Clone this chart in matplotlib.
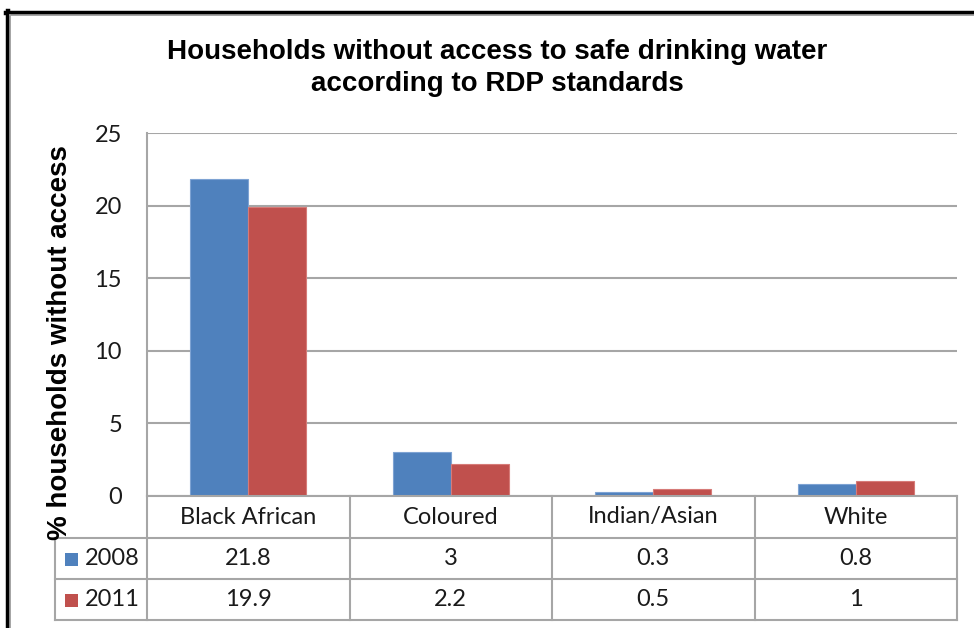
import matplotlib
matplotlib.use("Agg")
import matplotlib.pyplot as plt
from matplotlib.lines import Line2D
from matplotlib.patches import Rectangle

categories = ["Black African", "Coloured", "Indian/Asian", "White"]
series_names = ["2008", "2011"]
values_2008 = [21.8, 3, 0.3, 0.8]
values_2011 = [19.9, 2.2, 0.5, 1]
yticks = [0, 5, 10, 15, 20, 25]

title = "Households without access to safe drinking water\naccording to RDP standards"
ylabel = "% households without access"

BLUE = "#4F81BD"
RED = "#C0504D"
GRID = "#A6A6A6"
TEXT = "#1a1a1a"
BODY_FONT = ["Lato", "DejaVu Sans"]
HEAD_FONT = ["Liberation Sans", "DejaVu Sans"]
BODY_SIZE = 17

W, H = 974, 628
fig = plt.figure(figsize=(W / 100, H / 100), dpi=100)
fig.patch.set_facecolor("white")


def fx(x):
    return x / W


def fy(y):
    return 1 - y / H


# plot area in pixel coordinates
L, R, T, B = 147, 957, 133, 496
ax = fig.add_axes([fx(L), fy(B), (R - L) / W, (B - T) / H])

n = len(categories)
xs = list(range(n))
bw = 0.286
ax.bar([x - bw / 2 for x in xs], values_2008, width=bw, color=BLUE,
       edgecolor="#7EA3D3", linewidth=0.8, zorder=3)
ax.bar([x + bw / 2 for x in xs], values_2011, width=bw, color=RED,
       edgecolor="#D67B78", linewidth=0.8, zorder=3)

ax.set_xlim(-0.5, n - 0.5)
ax.set_ylim(0, 25)
ax.set_yticks(yticks)
ax.set_yticklabels([str(t) for t in yticks], fontsize=BODY_SIZE, color=TEXT,
                   family=BODY_FONT)
ax.set_xticks([])
ax.tick_params(axis="y", length=0, pad=18)
ax.yaxis.grid(True, color=GRID, linewidth=1.5, zorder=0)
for s in ["top", "right", "bottom"]:
    ax.spines[s].set_visible(False)
ax.spines["left"].set_color(GRID)
ax.spines["left"].set_linewidth(1.5)

# data table under the axis
row_tops = [496, 538, 579, 620]
tab_left = 55
col_w = (R - L) / n
lw = 1.5
# horizontal lines
fig.add_artist(Line2D([fx(L), fx(R)], [fy(row_tops[0])] * 2, color=GRID, lw=lw))
for y in row_tops[1:]:
    fig.add_artist(Line2D([fx(tab_left), fx(R)], [fy(y)] * 2, color=GRID, lw=lw))
# vertical lines
fig.add_artist(Line2D([fx(L), fx(L)], [fy(row_tops[0]), fy(row_tops[-1])], color=GRID, lw=lw))
fig.add_artist(Line2D([fx(tab_left)] * 2, [fy(row_tops[1]), fy(row_tops[-1])], color=GRID, lw=lw))
for i in range(1, n + 1):
    x = L + col_w * i
    fig.add_artist(Line2D([fx(x)] * 2, [fy(row_tops[0]), fy(row_tops[-1])], color=GRID, lw=lw))

# header row with categories
for i, c in enumerate(categories):
    xc = L + col_w * (i + 0.5)
    fig.text(fx(xc), fy((row_tops[0] + row_tops[1]) / 2), c, ha="center",
             va="center", fontsize=BODY_SIZE, color=TEXT, family=BODY_FONT)

# value rows
for r, (name, vals, col) in enumerate(zip(series_names, [values_2008, values_2011], [BLUE, RED])):
    yc = (row_tops[r + 1] + row_tops[r + 2]) / 2
    fig.add_artist(Rectangle((fx(65), fy(yc + 7)), 13 / W, 13 / H,
                             transform=fig.transFigure, facecolor=col,
                             edgecolor="none"))
    fig.text(fx(85), fy(yc), name, ha="left", va="center", fontsize=BODY_SIZE,
             color=TEXT, family=BODY_FONT)
    for i, v in enumerate(vals):
        xc = L + col_w * (i + 0.5)
        fig.text(fx(xc), fy(yc), f"{v:g}", ha="center", va="center",
                 fontsize=BODY_SIZE, color=TEXT, family=BODY_FONT)

# title and y label
fig.text(fx(497), fy(68), title, ha="center", va="center", fontsize=20,
         fontweight="bold", color="black", family=HEAD_FONT, linespacing=1.32)
fig.text(fx(60), fy(343), ylabel, ha="center", va="center", rotation=90,
         fontsize=20, fontweight="bold", color="black", family=HEAD_FONT)

# outer frame: black rule on top and left with grey inner rule
fig.add_artist(Line2D([fx(6), 1], [fy(12.5)] * 2, color="black", lw=3.2))
fig.add_artist(Line2D([fx(7.5)] * 2, [fy(11), 0], color="black", lw=3.2))
fig.add_artist(Line2D([fx(10), 1], [fy(15)] * 2, color="#A0A0A0", lw=1.2))
fig.add_artist(Line2D([fx(10)] * 2, [fy(15), 0], color="#A0A0A0", lw=1.2))

fig.savefig("out.png", dpi=100, facecolor="white")
